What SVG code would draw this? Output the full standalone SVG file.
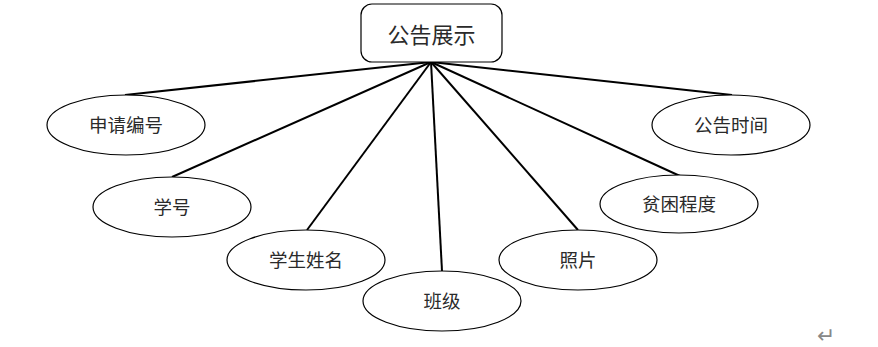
<svg xmlns="http://www.w3.org/2000/svg" width="878" height="347" viewBox="0 0 878 347">
<style>
.n{fill:#fff;stroke:#000;stroke-width:1.2}
.t{font-family:"Noto Sans CJK SC","Liberation Sans",sans-serif;font-size:18.5px;fill:#2a2a2a;text-anchor:middle;dominant-baseline:central}
.c line{stroke:#000;stroke-width:2}
</style>
<rect width="878" height="347" fill="#fff"/>
<g class="c" id="connectors">
<line x1="431" y1="62" x2="125" y2="95"/>
<line x1="431" y1="62" x2="172" y2="177"/>
<line x1="431" y1="62" x2="307" y2="230"/>
<line x1="431" y1="62" x2="442" y2="271"/>
<line x1="431" y1="62" x2="578" y2="230"/>
<line x1="431" y1="62" x2="680" y2="176"/>
<line x1="431" y1="62" x2="732" y2="95"/>
</g>
<g id="root"><rect class="n" x="361" y="4" width="141" height="58" rx="11"/><text class="t" x="431.5" y="33" style="font-size:22px">公告展示</text></g>
<g id="n1"><ellipse class="n" cx="126" cy="125" rx="79" ry="30"/><text class="t" x="126" y="124">申请编号</text></g>
<g id="n2"><ellipse class="n" cx="172" cy="207" rx="79" ry="30"/><text class="t" x="172" y="206">学号</text></g>
<g id="n3"><ellipse class="n" cx="306" cy="260" rx="79" ry="30"/><text class="t" x="306" y="259">学生姓名</text></g>
<g id="n4"><ellipse class="n" cx="442" cy="301" rx="79" ry="30"/><text class="t" x="442" y="300">班级</text></g>
<g id="n5"><ellipse class="n" cx="578" cy="260" rx="79" ry="30"/><text class="t" x="578" y="259">照片</text></g>
<g id="n6"><ellipse class="n" cx="679" cy="204" rx="79" ry="29"/><text class="t" x="679" y="203">贫困程度</text></g>
<g id="n7"><ellipse class="n" cx="731" cy="125" rx="79" ry="30"/><text class="t" x="731" y="124">公告时间</text></g>
<text x="826" y="335" style="font-family:'DejaVu Sans',sans-serif;font-size:22px;fill:#888;text-anchor:middle;dominant-baseline:central">↵</text>
</svg>
